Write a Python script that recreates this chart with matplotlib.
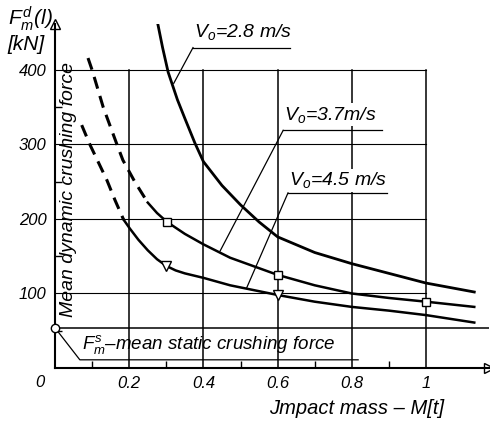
import matplotlib
matplotlib.use('Agg')
import matplotlib.pyplot as plt

plt.rcParams['font.family'] = ['Liberation Sans', 'DejaVu Sans']
plt.rcParams['font.style'] = 'italic'
plt.rcParams['mathtext.fontset'] = 'custom'
plt.rcParams['mathtext.rm'] = 'Liberation Sans:italic'
plt.rcParams['mathtext.it'] = 'Liberation Sans:italic'

# values: impact mass M [t] vs mean dynamic crushing force [kN]
mass_28 = [0.275, 0.29, 0.305, 0.33, 0.35, 0.377, 0.40, 0.45, 0.5, 0.55, 0.6, 0.7, 0.8, 0.9, 1.0, 1.13]
force_28 = [467, 430, 397, 360, 335, 302, 277, 245, 219, 196, 176, 155, 140, 127, 114, 102]

mass_37_dash = [0.089, 0.10, 0.13, 0.167, 0.183, 0.215, 0.25]
force_37_dash = [416, 400, 350, 300, 279, 250, 222]
mass_37 = [0.25, 0.275, 0.302, 0.35, 0.4, 0.472, 0.6, 0.7, 0.8, 0.9, 1.0, 1.13]
force_37 = [222, 208, 196, 180, 166, 148, 125, 111, 100, 94, 89, 82]

mass_45_dash = [0.072, 0.094, 0.14, 0.162, 0.185]
force_45_dash = [326, 300, 252, 225, 199]
mass_45 = [0.185, 0.202, 0.225, 0.25, 0.275, 0.3, 0.325, 0.35, 0.4, 0.472, 0.6, 0.7, 0.8, 0.9, 1.0, 1.13]
force_45 = [199, 187, 172, 158, 146, 137, 131, 127, 121, 111, 98, 89, 82, 77, 71, 61]

square_mass = [0.302, 0.6, 1.0]
square_force = [196, 125, 89]
tri_mass = [0.3, 0.6]
tri_force = [137, 98]
static_force = 54

x_ticks = [0.2, 0.4, 0.6, 0.8, 1.0]
x_labels = ['0.2', '0.4', '0.6', '0.8', '1']
y_ticks = [100, 200, 300, 400]
y_labels = ['100', '200', '300', '400']

fig = plt.figure(figsize=(4.9, 4.25), dpi=100)
ax = fig.add_axes([0.1122, 0.1341, 0.886, 0.81])
ax.set_xlim(0, 1.17)
ax.set_ylim(0, 462)

# grid box
for x in x_ticks:
    ax.plot([x, x], [0, 400], color='black', lw=1.1, zorder=1)
for y in y_ticks:
    ax.plot([0, 1.0], [y, y], color='black', lw=0.8, zorder=1)
ax.plot([0, 1.17], [static_force, static_force], color='black', lw=1.1, zorder=1)

# curves
ax.plot(mass_28, force_28, color='black', lw=2.0, zorder=3)
ax.plot(mass_37_dash, force_37_dash, color='black', lw=2.2, ls=(0, (4, 2.5)), zorder=3)
ax.plot(mass_37, force_37, color='black', lw=1.8, zorder=3)
ax.plot(mass_45_dash, force_45_dash, color='black', lw=2.2, ls=(0, (4, 2.5)), zorder=3)
ax.plot(mass_45, force_45, color='black', lw=1.8, zorder=3)

ax.plot(square_mass, square_force, 's', ms=6, mfc='white', mec='black', mew=1.0, zorder=4)
ax.plot(tri_mass, tri_force, 'v', ms=7, mfc='white', mec='black', mew=1.0, zorder=4)
ax.plot([0], [static_force], 'o', ms=6, mfc='white', mec='black', mew=1.0, zorder=5, clip_on=False)

# labels with underline and leader
box = dict(facecolor='white', edgecolor='none', pad=1)
ax.text(0.375, 451, r'$V_o$=2.8 m/s', fontsize=14, va='center', ha='left', bbox=box, zorder=2)
ax.plot([0.372, 0.633], [430, 430], color='black', lw=0.9, zorder=2)
ax.plot([0.372, 0.32], [430, 382], color='black', lw=0.9, zorder=2)

ax.text(0.617, 340, r'$V_o$=3.7m/s', fontsize=14, va='center', ha='left', bbox=box, zorder=2)
ax.plot([0.615, 0.88], [319, 319], color='black', lw=0.9, zorder=2)
ax.plot([0.615, 0.445], [319, 157], color='black', lw=0.9, zorder=2)

ax.text(0.63, 252, r'$V_o$=4.5 m/s', fontsize=14, va='center', ha='left', bbox=box, zorder=2)
ax.plot([0.628, 0.895], [235, 235], color='black', lw=0.9, zorder=2)
ax.plot([0.628, 0.517], [235, 108], color='black', lw=0.9, zorder=2)

ax.text(0.072, 31, r'$F_m^s$–mean static crushing force', fontsize=13.5, va='center', ha='left', zorder=2)
ax.plot([0, 0.067, 0.817], [static_force, 11, 11], color='black', lw=0.9, zorder=2)

ax.text(0.036, 239, 'Mean dynamic crushing force', rotation=90, fontsize=14,
        va='center', ha='center', zorder=2)

# axes
for side in ['top', 'right']:
    ax.spines[side].set_visible(False)
ax.spines['left'].set_linewidth(1.5)
ax.spines['bottom'].set_linewidth(1.5)
ax.plot(1, 0, '>', ms=7, mfc='white', mec='black', transform=ax.transAxes, clip_on=False)
ax.plot(0, 1, '^', ms=7, mfc='white', mec='black', transform=ax.transAxes, clip_on=False)

ax.set_xticks(x_ticks)
ax.set_xticklabels(x_labels)
ax.set_yticks(y_ticks)
ax.set_yticklabels(y_labels)
ax.set_xticks([0.1, 0.3, 0.5, 0.7, 0.9], minor=True)
ax.set_yticks([50, 150, 250, 350], minor=True)
ax.tick_params(which='major', length=0, labelsize=12, pad=6)
ax.tick_params(which='minor', direction='in', length=5, width=1)
ax.text(-0.04, -20, '0', fontsize=12, ha='center', va='center', clip_on=False)

fig.text(0.016, 0.955, r'$F_m^d(l)$', fontsize=15, ha='left', va='center')
fig.text(0.016, 0.895, '[kN]', fontsize=15, ha='left', va='center')
fig.text(0.55, 0.04, 'Jmpact mass – M[t]', fontsize=14.5, ha='left', va='center')

fig.savefig('out.png', dpi=100)
